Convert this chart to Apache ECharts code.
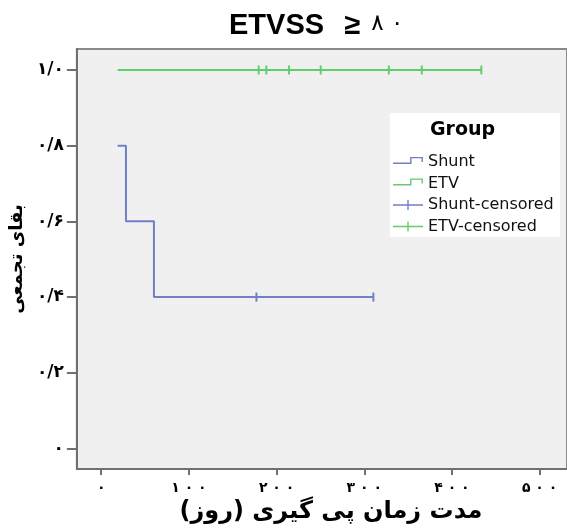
<!DOCTYPE html>
<html>
<head>
<meta charset="utf-8">
<script src="https://cdn.jsdelivr.net/npm/echarts@6/dist/echarts.min.js"></script>
<style>
  html, body { margin: 0; padding: 0; background: #ffffff; }
  #chart { width: 567px; height: 529px; }
</style>
</head>
<body>
<div id="chart"></div>
<script>
// Kaplan–Meier survival by treatment group (days of follow-up)
const groupNames = ['Shunt', 'ETV', 'Shunt-censored', 'ETV-censored'];

// Shunt: step points (time, cumulative survival) and censored times
const shuntTimes = [18.7, 28.2, 60.1, 310.4];
const shuntSurvival = [0.8, 0.6, 0.4, 0.4];
const shuntCensoredTimes = [177, 310.4];
const shuntCensoredSurvival = [0.4, 0.4];

// ETV: no events, survival stays at 1.0
const etvTimes = [18.7, 433.5];
const etvSurvival = [1.0, 1.0];
const etvCensoredTimes = [179.6, 188.3, 214.2, 250.3, 328, 365.6, 433.5];
const etvCensoredSurvival = [1, 1, 1, 1, 1, 1, 1];

const xTickValues = [0, 100, 200, 300, 400, 500];
const yTickValues = [0, 0.2, 0.4, 0.6, 0.8, 1.0];

const titleLatin = 'ETVSS\u2002\u2009\u2265';
const titleDigits = '\u06F8 \u06F0';
const xAxisTitle = '\u200Fمدت زمان پی گیری (روز)\u200F';
const yAxisTitle = '\u200Fبقای تجمعی\u200F';

const shuntColor = '#6f80c6';
const etvColor = '#62cc70';

// Western digits -> Persian digits, '/' as decimal separator
const faDigits = ['۰','۱','۲','۳','۴','۵','۶','۷','۸','۹'];
function toPersian(str) {
  return String(str).replace(/[0-9]/g, d => faDigits[+d]).replace('.', '/');
}
function zip(xs, ys) { return xs.map((x, i) => [x, ys[i]]); }

// Legend icons drawn as thin outlined shapes in a 30x12 box
const stepIcon = 'path://M0,0L0.01,0L0,0.01Z M0,12L0.01,12L0,11.99Z ' +
  'M0,6.5L17,6.5L17,1L29.8,1L29.8,6L28.4,6L28.4,2.3L18.4,2.3L18.4,7.9L0,7.9Z';
const crossIcon = 'path://M0,0L0.01,0L0,0.01Z M0,12L0.01,12L0,11.99Z ' +
  'M0,5.3L14.3,5.3L14.3,1L15.7,1L15.7,5.3L30,5.3L30,6.7L15.7,6.7L15.7,11L14.3,11L14.3,6.7L0,6.7Z';

const chart = echarts.init(document.getElementById('chart'), null, { renderer: 'canvas' });

chart.setOption({
  animation: false,
  backgroundColor: '#ffffff',
  title: {
    text: '{a|' + titleLatin + '}{b|' + titleDigits + '}',
    left: 224,
    top: 6,
    textStyle: {
      rich: {
        a: {
          fontFamily: 'Liberation Sans',
          fontSize: 29,
          fontWeight: 'bold',
          color: '#000000',
          verticalAlign: 'bottom'
        },
        b: {
          fontFamily: 'DejaVu Sans',
          fontSize: 23,
          fontWeight: 'normal',
          color: '#000000',
          verticalAlign: 'bottom',
          padding: [0, 0, 4, 11]
        }
      }
    }
  },
  grid: {
    left: 76,
    right: -5,
    top: 49,
    bottom: 59,
    show: true,
    backgroundColor: '#f0f0f0',
    borderColor: '#8a8a8a',
    borderWidth: 2
  },
  xAxis: {
    type: 'value',
    min: -27.8,
    max: 531.2,
    name: xAxisTitle,
    nameLocation: 'middle',
    nameGap: 30,
    nameTextStyle: {
      fontFamily: 'DejaVu Sans',
      fontSize: 24,
      fontWeight: 'bold',
      color: '#000000',
      padding: [0, 0, 0, 18]
    },
    splitLine: { show: false },
    axisLine: { onZero: false, lineStyle: { color: '#707070', width: 2 } },
    axisTick: {
      customValues: xTickValues,
      length: 6,
      lineStyle: { color: '#707070', width: 2 }
    },
    axisLabel: {
      customValues: xTickValues,
      formatter: v => toPersian(v).split('').join(' '),
      margin: 12,
      fontFamily: 'DejaVu Sans',
      fontSize: 14,
      fontWeight: 'bold',
      color: '#000000'
    }
  },
  yAxis: {
    type: 'value',
    min: -0.0546,
    max: 1.0554,
    name: yAxisTitle,
    nameLocation: 'middle',
    nameRotate: 90,
    nameGap: 48,
    nameTextStyle: {
      fontFamily: 'DejaVu Sans',
      fontSize: 18,
      fontWeight: 'bold',
      color: '#000000'
    },
    splitLine: { show: false },
    axisLine: { onZero: false, lineStyle: { color: '#707070', width: 2 } },
    axisTick: {
      customValues: yTickValues,
      length: 10,
      lineStyle: { color: '#707070', width: 2 }
    },
    axisLabel: {
      customValues: yTickValues,
      formatter: v => (v === 0 ? '۰' : toPersian(v.toFixed(1))),
      margin: 13,
      fontFamily: 'DejaVu Sans',
      fontSize: 17,
      fontWeight: 'bold',
      color: '#000000'
    }
  },
  legend: {
    orient: 'vertical',
    left: 393,
    top: 154,
    itemWidth: 30,
    itemHeight: 12,
    itemGap: 5.5,
    padding: 0,
    selectedMode: false,
    textStyle: {
      fontFamily: 'DejaVu Sans',
      fontSize: 16,
      color: '#111111'
    },
    data: [
      { name: groupNames[0], icon: stepIcon },
      { name: groupNames[1], icon: stepIcon },
      { name: groupNames[2], icon: crossIcon },
      { name: groupNames[3], icon: crossIcon }
    ]
  },
  graphic: [
    {
      type: 'rect',
      left: 390,
      top: 113,
      shape: { width: 170, height: 124 },
      style: { fill: '#ffffff' },
      z: 0,
      zlevel: 0,
      silent: true
    },
    {
      type: 'text',
      left: 430,
      top: 121,
      style: {
        text: 'Group',
        fontFamily: 'DejaVu Sans',
        fontSize: 19,
        fontWeight: 'bold',
        fill: '#000000'
      },
      z: 10
    }
  ],
  series: [
    {
      name: groupNames[0],
      type: 'line',
      step: 'end',
      data: zip(shuntTimes, shuntSurvival),
      symbol: 'none',
      lineStyle: { color: shuntColor, width: 2 },
      itemStyle: { color: shuntColor }
    },
    {
      name: groupNames[1],
      type: 'line',
      step: 'end',
      data: zip(etvTimes, etvSurvival),
      symbol: 'none',
      lineStyle: { color: etvColor, width: 2 },
      itemStyle: { color: etvColor }
    },
    {
      name: groupNames[2],
      type: 'scatter',
      data: zip(shuntCensoredTimes, shuntCensoredSurvival),
      symbol: 'rect',
      symbolSize: [2, 9],
      itemStyle: { color: shuntColor, opacity: 1 }
    },
    {
      name: groupNames[3],
      type: 'scatter',
      data: zip(etvCensoredTimes, etvCensoredSurvival),
      symbol: 'rect',
      symbolSize: [2, 9],
      itemStyle: { color: etvColor, opacity: 1 }
    }
  ]
});
</script>
</body>
</html>
